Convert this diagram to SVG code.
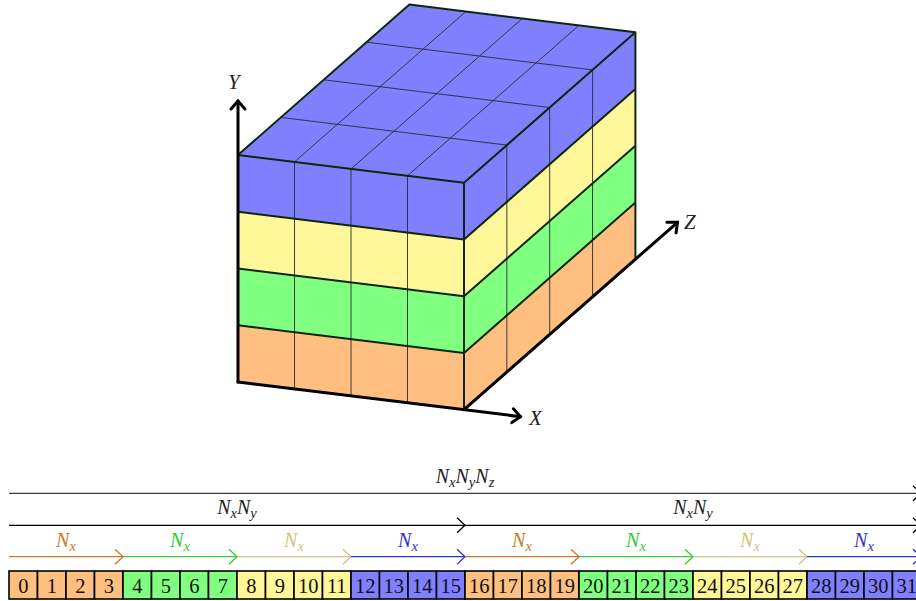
<svg xmlns="http://www.w3.org/2000/svg" width="916" height="601" viewBox="0 0 916 601">
<style>
.o{fill:#ffbf80}.g{fill:#80ff80}.y{fill:#fff799}.b{fill:#8080ff}
.grid{stroke:#2a2a2a;stroke-width:0.9;fill:none}
.edge{stroke:#0d260d;stroke-width:2;fill:none;stroke-linejoin:round}
.axis{stroke:#000;stroke-width:3;fill:none;stroke-linecap:round}
.lbl{font-family:"Liberation Serif",serif;font-style:italic;font-size:21px;fill:#222}
.cell{stroke:#000;stroke-width:1.6}
.num{font-family:"Liberation Serif",serif;font-size:20.5px;text-anchor:middle;fill:#111}
.nl{font-family:"Liberation Serif",serif;font-style:italic;font-size:20px;text-anchor:middle}
.sub{font-size:14.5px}
</style>
<defs>
<marker id="ah" markerUnits="userSpaceOnUse" viewBox="-12 -10 14 20" refX="0" refY="0" markerWidth="14" markerHeight="20" orient="auto">
<path d="M-8,-7 L0,0 L-8,7" fill="none" stroke="#000" stroke-width="3" stroke-linecap="round" stroke-linejoin="miter"/>
</marker>
<marker id="c_k" markerUnits="userSpaceOnUse" viewBox="-10 -9 12 18" refX="0" refY="0" markerWidth="12" markerHeight="18" orient="auto"><path d="M-8,-7.5 L0,0 L-8,7.5" fill="none" stroke="#000" stroke-width="1.3"/></marker>
<marker id="c_o" markerUnits="userSpaceOnUse" viewBox="-10 -9 12 18" refX="0" refY="0" markerWidth="12" markerHeight="18" orient="auto"><path d="M-8,-7.5 L0,0 L-8,7.5" fill="none" stroke="#c8782f" stroke-width="1.3"/></marker>
<marker id="c_g" markerUnits="userSpaceOnUse" viewBox="-10 -9 12 18" refX="0" refY="0" markerWidth="12" markerHeight="18" orient="auto"><path d="M-8,-7.5 L0,0 L-8,7.5" fill="none" stroke="#33cc33" stroke-width="1.3"/></marker>
<marker id="c_y" markerUnits="userSpaceOnUse" viewBox="-10 -9 12 18" refX="0" refY="0" markerWidth="12" markerHeight="18" orient="auto"><path d="M-8,-7.5 L0,0 L-8,7.5" fill="none" stroke="#cfc47a" stroke-width="1.3"/></marker>
<marker id="c_b" markerUnits="userSpaceOnUse" viewBox="-10 -9 12 18" refX="0" refY="0" markerWidth="12" markerHeight="18" orient="auto"><path d="M-8,-7.5 L0,0 L-8,7.5" fill="none" stroke="#3333cc" stroke-width="1.3"/></marker>
</defs>
<rect width="916" height="601" fill="#fff"/>

<g id="cube">
<g id="front">
<polygon class="o" points="238,382 464,409.72 464,352.97 238,325.25"/>
<polygon class="g" points="238,325.25 464,352.97 464,296.22 238,268.5"/>
<polygon class="y" points="238,268.5 464,296.22 464,239.47 238,211.75"/>
<polygon class="b" points="238,211.75 464,239.47 464,182.72 238,155"/>
<path class="grid" d="M294.5,388.93V161.93M351,395.86V168.86M407.5,402.79V175.79"/>
</g>
<g id="right">
<polygon class="o" points="464,409.72 635.4,259.32 635.4,202.57 464,352.97"/>
<polygon class="g" points="464,352.97 635.4,202.57 635.4,145.82 464,296.22"/>
<polygon class="y" points="464,296.22 635.4,145.82 635.4,89.07 464,239.47"/>
<polygon class="b" points="464,239.47 635.4,89.07 635.4,32.32 464,182.72"/>
<path class="grid" d="M506.85,372.12V145.12M549.7,334.52V107.52M592.55,296.92V69.92"/>
</g>
<g id="top">
<polygon class="b" points="238,155 464,182.72 635.4,32.32 409.4,4.6"/>
<path class="grid" d="M294.5,161.93L465.9,11.53M351,168.86L522.4,18.46M407.5,175.79L578.9,25.39M280.85,117.4L506.85,145.12M323.7,79.8L549.7,107.52M366.55,42.2L592.55,69.92"/>
</g>
<path class="edge" d="M238,325.25L464,352.97L635.4,202.57M238,268.5L464,296.22L635.4,145.82M238,211.75L464,239.47L635.4,89.07"/>
<path class="edge" d="M238,155L464,182.72L635.4,32.32L409.4,4.6Z M464,182.72V409.72 M635.4,32.32V259.32L464,409.72"/>
</g>

<g id="axes">
<path class="axis" d="M238,382V101" marker-end="url(#ah)"/>
<path class="axis" d="M238,382L520.5,416.65" marker-end="url(#ah)"/>
<path class="axis" d="M464,409.72L677.5,222.3" marker-end="url(#ah)"/>
<text class="lbl" x="228" y="89">Y</text>
<text class="lbl" x="529" y="425">X</text>
<text class="lbl" x="684" y="229">Z</text>
</g>

<g id="connectors" stroke-width="1.3" fill="none">
<path d="M9,493.3H921" stroke="#3a3a3a" marker-end="url(#c_k)"/>
<path d="M9,525.3H465" stroke="#000" marker-end="url(#c_k)"/>
<path d="M465,525.3H921" stroke="#000" marker-end="url(#c_k)"/>
<path d="M9,556.7H123" stroke="#c8782f" marker-end="url(#c_o)"/>
<path d="M123,556.7H237" stroke="#33cc33" marker-end="url(#c_g)"/>
<path d="M237,556.7H351" stroke="#cfc47a" marker-end="url(#c_y)"/>
<path d="M351,556.7H465" stroke="#3333cc" marker-end="url(#c_b)"/>
<path d="M465,556.7H579" stroke="#c8782f" marker-end="url(#c_o)"/>
<path d="M579,556.7H693" stroke="#33cc33" marker-end="url(#c_g)"/>
<path d="M693,556.7H807" stroke="#cfc47a" marker-end="url(#c_y)"/>
<path d="M807,556.7H921" stroke="#3333cc" marker-end="url(#c_b)"/>
</g>

<g id="labels">
<text class="nl" x="465" y="483" fill="#222">N<tspan class="sub" dy="4">x</tspan><tspan dy="-4">N</tspan><tspan class="sub" dy="4">y</tspan><tspan dy="-4">N</tspan><tspan class="sub" dy="4">z</tspan></text>
<text class="nl" x="237" y="514" fill="#222">N<tspan class="sub" dy="4">x</tspan><tspan dy="-4">N</tspan><tspan class="sub" dy="4">y</tspan></text>
<text class="nl" x="693" y="514" fill="#222">N<tspan class="sub" dy="4">x</tspan><tspan dy="-4">N</tspan><tspan class="sub" dy="4">y</tspan></text>
<text class="nl" x="66" y="547" fill="#c8782f">N<tspan class="sub" dy="4">x</tspan></text>
<text class="nl" x="180" y="547" fill="#33cc33">N<tspan class="sub" dy="4">x</tspan></text>
<text class="nl" x="294" y="547" fill="#cfc47a">N<tspan class="sub" dy="4">x</tspan></text>
<text class="nl" x="408" y="547" fill="#3333cc">N<tspan class="sub" dy="4">x</tspan></text>
<text class="nl" x="522" y="547" fill="#c8782f">N<tspan class="sub" dy="4">x</tspan></text>
<text class="nl" x="636" y="547" fill="#33cc33">N<tspan class="sub" dy="4">x</tspan></text>
<text class="nl" x="750" y="547" fill="#cfc47a">N<tspan class="sub" dy="4">x</tspan></text>
<text class="nl" x="864" y="547" fill="#3333cc">N<tspan class="sub" dy="4">x</tspan></text>
</g>

<g id="cells">
<rect class="cell o" x="9" y="571" width="28.5" height="28"/><text class="num" x="23.25" y="592.5">0</text>
<rect class="cell o" x="37.5" y="571" width="28.5" height="28"/><text class="num" x="51.75" y="592.5">1</text>
<rect class="cell o" x="66" y="571" width="28.5" height="28"/><text class="num" x="80.25" y="592.5">2</text>
<rect class="cell o" x="94.5" y="571" width="28.5" height="28"/><text class="num" x="108.75" y="592.5">3</text>
<rect class="cell g" x="123" y="571" width="28.5" height="28"/><text class="num" x="137.25" y="592.5">4</text>
<rect class="cell g" x="151.5" y="571" width="28.5" height="28"/><text class="num" x="165.75" y="592.5">5</text>
<rect class="cell g" x="180" y="571" width="28.5" height="28"/><text class="num" x="194.25" y="592.5">6</text>
<rect class="cell g" x="208.5" y="571" width="28.5" height="28"/><text class="num" x="222.75" y="592.5">7</text>
<rect class="cell y" x="237" y="571" width="28.5" height="28"/><text class="num" x="251.25" y="592.5">8</text>
<rect class="cell y" x="265.5" y="571" width="28.5" height="28"/><text class="num" x="279.75" y="592.5">9</text>
<rect class="cell y" x="294" y="571" width="28.5" height="28"/><text class="num" x="308.25" y="592.5">10</text>
<rect class="cell y" x="322.5" y="571" width="28.5" height="28"/><text class="num" x="336.75" y="592.5">11</text>
<rect class="cell b" x="351" y="571" width="28.5" height="28"/><text class="num" x="365.25" y="592.5">12</text>
<rect class="cell b" x="379.5" y="571" width="28.5" height="28"/><text class="num" x="393.75" y="592.5">13</text>
<rect class="cell b" x="408" y="571" width="28.5" height="28"/><text class="num" x="422.25" y="592.5">14</text>
<rect class="cell b" x="436.5" y="571" width="28.5" height="28"/><text class="num" x="450.75" y="592.5">15</text>
<rect class="cell o" x="465" y="571" width="28.5" height="28"/><text class="num" x="479.25" y="592.5">16</text>
<rect class="cell o" x="493.5" y="571" width="28.5" height="28"/><text class="num" x="507.75" y="592.5">17</text>
<rect class="cell o" x="522" y="571" width="28.5" height="28"/><text class="num" x="536.25" y="592.5">18</text>
<rect class="cell o" x="550.5" y="571" width="28.5" height="28"/><text class="num" x="564.75" y="592.5">19</text>
<rect class="cell g" x="579" y="571" width="28.5" height="28"/><text class="num" x="593.25" y="592.5">20</text>
<rect class="cell g" x="607.5" y="571" width="28.5" height="28"/><text class="num" x="621.75" y="592.5">21</text>
<rect class="cell g" x="636" y="571" width="28.5" height="28"/><text class="num" x="650.25" y="592.5">22</text>
<rect class="cell g" x="664.5" y="571" width="28.5" height="28"/><text class="num" x="678.75" y="592.5">23</text>
<rect class="cell y" x="693" y="571" width="28.5" height="28"/><text class="num" x="707.25" y="592.5">24</text>
<rect class="cell y" x="721.5" y="571" width="28.5" height="28"/><text class="num" x="735.75" y="592.5">25</text>
<rect class="cell y" x="750" y="571" width="28.5" height="28"/><text class="num" x="764.25" y="592.5">26</text>
<rect class="cell y" x="778.5" y="571" width="28.5" height="28"/><text class="num" x="792.75" y="592.5">27</text>
<rect class="cell b" x="807" y="571" width="28.5" height="28"/><text class="num" x="821.25" y="592.5">28</text>
<rect class="cell b" x="835.5" y="571" width="28.5" height="28"/><text class="num" x="849.75" y="592.5">29</text>
<rect class="cell b" x="864" y="571" width="28.5" height="28"/><text class="num" x="878.25" y="592.5">30</text>
<rect class="cell b" x="892.5" y="571" width="28.5" height="28"/><text class="num" x="906.75" y="592.5">31</text>
</g>
</svg>
